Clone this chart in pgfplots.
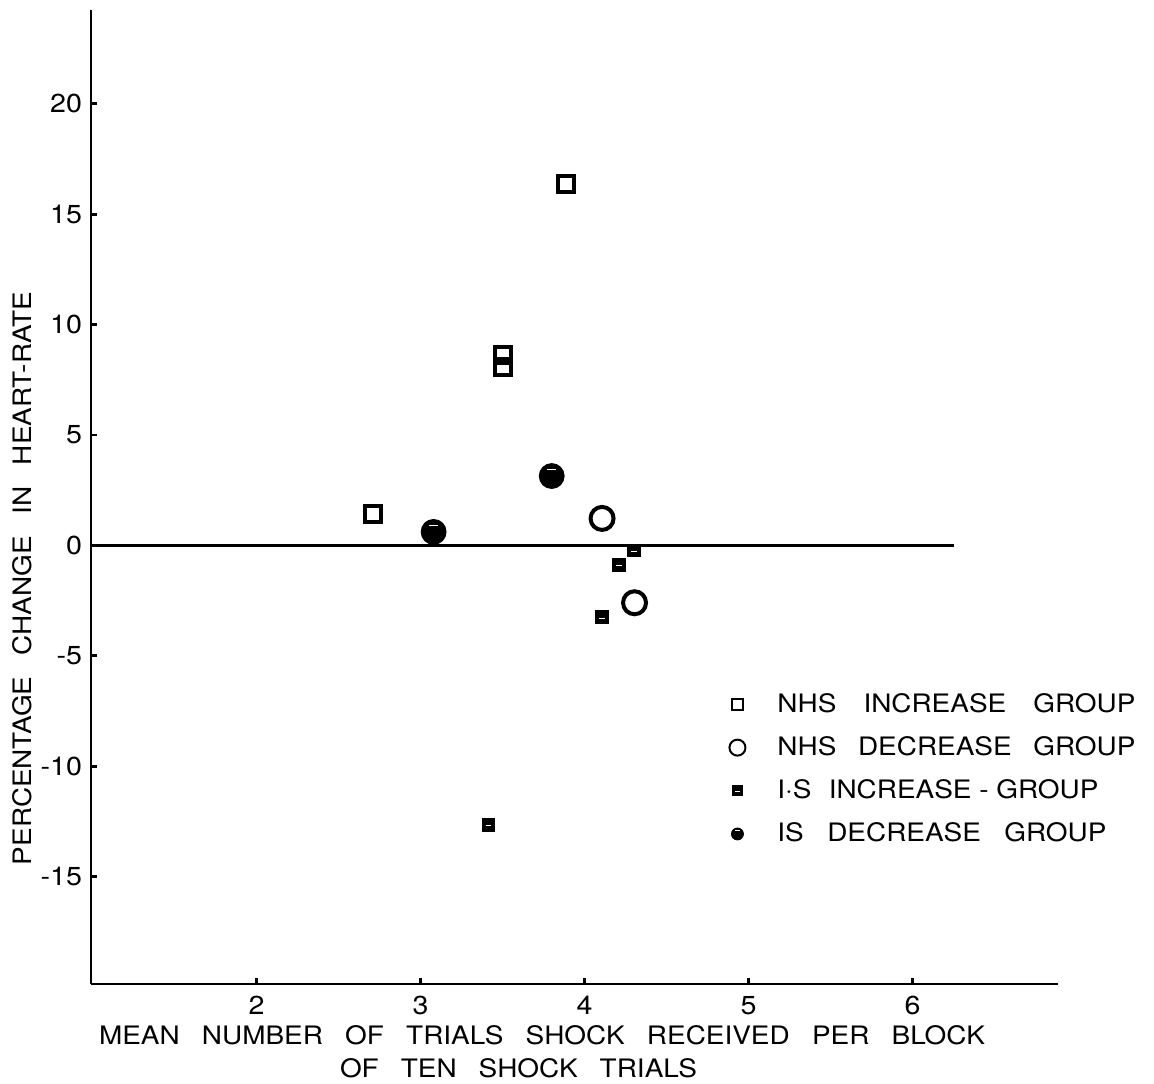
\documentclass[border=0pt]{standalone}
\usepackage{pgfplots}
\pgfplotsset{compat=1.18}
\usepackage{fontspec}
\setmainfont{TeX Gyre Heros}[FakeStretch=1.1]

\pgfdeclareplotmark{issq}{%
  \pgfpathrectangle{\pgfqpoint{-\pgfplotmarksize}{-\pgfplotmarksize}}{\pgfqpoint{2\pgfplotmarksize}{2\pgfplotmarksize}}%
  \pgfusepathqfillstroke
  \begin{pgfscope}%
  \pgfsetstrokecolor{white}\pgfsetlinewidth{0.5pt}%
  \pgfpathmoveto{\pgfqpoint{-0.45\pgfplotmarksize}{-0.15\pgfplotmarksize}}%
  \pgfpathlineto{\pgfqpoint{0.45\pgfplotmarksize}{-0.15\pgfplotmarksize}}%
  \pgfusepathqstroke
  \end{pgfscope}%
}
\pgfdeclareplotmark{iscirc}{%
  \pgfpathcircle{\pgfpointorigin}{\pgfplotmarksize}%
  \pgfusepathqfillstroke
  \begin{pgfscope}%
  \pgfsetstrokecolor{white}\pgfsetlinewidth{0.5pt}%
  \pgfpathmoveto{\pgfqpoint{-0.35\pgfplotmarksize}{0.55\pgfplotmarksize}}%
  \pgfpathlineto{\pgfqpoint{0.35\pgfplotmarksize}{0.55\pgfplotmarksize}}%
  \pgfusepathqstroke
  \end{pgfscope}%
}

\begin{document}
\begin{tikzpicture}
\useasboundingbox (-45.5pt,-49.5pt) rectangle (531.5pt,492pt);
\begin{axis}[
  scale only axis, width=483.5pt, height=487pt,
  xmin=0.991, xmax=6.887, ymin=-19.87, ymax=24.25,
  axis x line=bottom, axis y line=left,
  axis line style={-, line width=1.4pt, black},
  xtick={2,3,4,5,6}, ytick={-15,-10,-5,0,5,10,15,20},
  tick align=inside, major tick length=3pt,
  tick style={line width=1.4pt, black},
  ticklabel style={font=\fontsize{13}{15}\selectfont},
  /pgf/number format/assume math mode=true,
  xticklabel style={yshift=-2.5pt},
  yticklabel style={xshift=-1pt},
  legend cell align=left,
  legend image code/.code={\draw[#1] plot coordinates {(0pt,0pt)};},
  legend style={at={(0.6598,0.2987)}, anchor=north west, draw=none, fill=none,
    inner sep=0pt, row sep=10.6pt, column sep=16pt,
    nodes={inner sep=0pt, font=\fontsize{12.7}{15}\selectfont}},
  clip=false,
]
% zero line
\addplot[line width=1.4pt, black, forget plot] coordinates {(0.991,0) (6.253,0)};
% NHS increase group
\addplot[only marks, mark=square, mark size=4pt, line width=2pt, black, forget plot]
  coordinates {(2.71,1.42) (3.506,8.6) (3.506,8.1) (3.89,16.37)};
% NHS decrease group
\addplot[only marks, mark=o, mark size=5.75pt, line width=2pt, black, forget plot]
  coordinates {(4.107,1.22) (4.305,-2.60)};
% IS increase group
\addplot[only marks, mark=issq, mark size=3.2pt, line width=0.5pt, black,
  mark options={fill=black, draw=black}, forget plot]
  coordinates {(4.30,-0.23) (4.21,-0.88) (4.107,-3.25) (3.415,-12.66)};
% IS decrease group
\addplot[only marks, mark=iscirc, mark size=6.2pt, line width=0.5pt, black,
  mark options={fill=black, draw=black}, forget plot]
  coordinates {(3.08,0.61) (3.80,3.14)};

\addlegendimage{only marks, mark=square, mark size=2.75pt, line width=1pt, black}
\addlegendentry{\makebox[179pt][s]{NHS INCREASE GROUP}}
\addlegendimage{only marks, mark=o, mark size=4pt, line width=1pt, black}
\addlegendentry{\makebox[179pt][s]{NHS DECREASE GROUP}}
\addlegendimage{only marks, mark=issq, mark size=2.5pt, line width=0.4pt, black, mark options={fill=black, draw=black}}
\addlegendentry{\makebox[160.5pt][s]{I·S\hfill INCREASE~-~GROUP}}
\addlegendimage{only marks, mark=iscirc, mark size=3pt, line width=0.4pt, black, mark options={fill=black, draw=black}}
\addlegendentry{\makebox[164.5pt][s]{IS DECREASE GROUP}}
\end{axis}
\node[inner sep=0pt, font=\fontsize{12.7}{15}\selectfont] at (225.5pt,-25.75pt)
  {\makebox[443pt][s]{MEAN NUMBER OF TRIALS SHOCK RECEIVED PER BLOCK}};
\node[inner sep=0pt, font=\fontsize{12.7}{15}\selectfont] at (213.75pt,-42pt)
  {\makebox[178.5pt][s]{OF TEN SHOCK TRIALS}};
\node[rotate=90, inner sep=0pt, font=\fontsize{12.7}{15}\selectfont] at (-34.5pt,202.75pt)
  {\makebox[286.5pt][s]{PERCENTAGE CHANGE IN HEART-RATE}};
\end{tikzpicture}
\end{document}
